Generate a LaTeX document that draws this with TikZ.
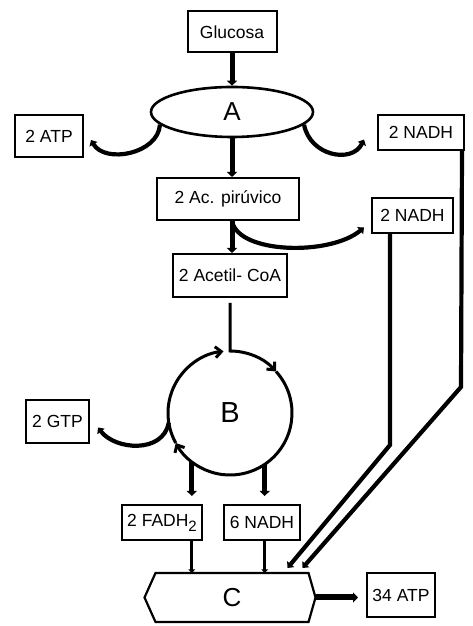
\documentclass[tikz,border=0pt]{standalone}
\usepackage{fontspec}
\setmainfont{Liberation Sans}
\usetikzlibrary{arrows.meta,shapes.geometric}

\begin{document}
\def \ringRadius {62}
\def \labelSize {\fontsize{17.5}{19}\selectfont}

\begin{tikzpicture}[x=1pt,y=1pt,
    box/.style={draw,line width=2pt,inner sep=0pt,font=\labelSize},
    fat/.style={line width=5pt,-{Triangle[length=5pt,width=10pt]}},
    bent/.style={line width=4.2pt,-{Triangle[length=5pt,width=9pt]}},
    ring/.style={line width=3pt,-{Straight Barb[length=6pt,width=11pt]}},
    feed/.style={line width=3pt,-{Triangle[length=3.5pt,width=6.5pt]}}]
         \useasboundingbox (0,0) rectangle (472,626);

         \node[box,minimum width=89pt,minimum height=41pt] (glucosa) at (232,594) {Glucosa};
         \node[ellipse,draw,line width=2.6pt,minimum width=162pt,minimum height=50pt,inner sep=0pt,font=\fontsize{26}{26}\selectfont] (glyc) at (232,514) {A};
         \node[box,minimum width=68pt,minimum height=42pt] (atp) at (49,490) {2 ATP};
         \node[box,minimum width=86pt,minimum height=35pt] (nadhA) at (421,493.5) {2 NADH};
         \node[box,minimum width=142pt,minimum height=42pt] (piruvico) at (228,427) {2 Ac. pirúvico};
         \node[box,minimum width=81pt,minimum height=35pt] (nadhB) at (412.5,410.5) {2 NADH};
         \node[box,minimum width=114pt,minimum height=43pt] (acetil) at (230,350.5) {2 Acetil- CoA};
         \node[circle,minimum size=124pt,inner sep=0pt,outer sep=0pt,font=\fontsize{29}{29}\selectfont] (krebs) at (230,213) {B};
         \node[box,minimum width=63pt,minimum height=43pt] (gtp) at (57.5,204.5) {2 GTP};
         \node[box,minimum width=80pt,minimum height=35pt] (fadh) at (162,103.5) {2 FADH\raisebox{-5pt}{\fontsize{15}{15}\selectfont 2}};
         \node[box,minimum width=76pt,minimum height=35pt] (nadhC) at (262,103.5) {6 NADH};
         \node[minimum width=153pt,minimum height=49pt,inner sep=0pt,outer sep=0pt,font=\fontsize{26}{26}\selectfont] (oxid) at (232,28.5) {C};
         \node[box,minimum width=68pt,minimum height=44pt] (atpC) at (401,31) {34 ATP};

         \coordinate (kneeA) at (461,239);
         \coordinate (kneeB) at (390,181);

         \draw[fat] (glucosa) -- (glyc);
         \draw[fat] (glyc.south) -- (glyc.south |- piruvico.north);
         \draw[fat] (glyc.south |- piruvico.south) -- (glyc.south |- acetil.north);
         \draw[bent] (glyc.190) .. controls (158,472) and (105,462) .. ([xshift=7pt,yshift=-4pt]atp.east);
         \draw[bent] (glyc.-10) .. controls (310,470) and (352,462) .. ([xshift=-13pt,yshift=-7pt]nadhA.west);
         \draw[bent] (glyc.south |- piruvico.south) .. controls (238,372) and (330,370) .. ([xshift=-7pt,yshift=-12pt]nadhB.west);

         \draw[ring] ([yshift=-5pt]acetil.south -| krebs.north) -- (krebs.north) arc[start angle=90,end angle=42,radius=\ringRadius];
         \draw[ring] (krebs.42) arc[start angle=42,end angle=-151,radius=\ringRadius];
         \draw[ring] (krebs.-151) arc[start angle=-151,end angle=-264,radius=\ringRadius];
         \draw[bent] (krebs.189) .. controls (163,172) and (115,176) .. ([xshift=8pt,yshift=-6pt]gtp.east);

         \draw[fat,shorten >=8pt] (krebs.-128) -- (krebs.-128 |- fadh.north);
         \draw[fat,shorten >=8pt] (krebs.-56) -- (krebs.-56 |- nadhC.north);
         \draw[feed] (krebs.-128 |- fadh.south) -- (krebs.-128 |- oxid.north);
         \draw[feed] (krebs.-56 |- nadhC.south) -- (krebs.-56 |- oxid.north);

         \draw[bent] ([xshift=-3pt]nadhA.south east) -- (kneeA) -- ([xshift=-6pt,yshift=5pt]oxid.north east);
         \draw[bent] (kneeB |- nadhB.south) -- (kneeB) -- ([xshift=-21pt,yshift=5pt]oxid.north east);

         \draw[line width=2.2pt] (oxid.north west) -- (oxid.north east) -- ([xshift=7pt]oxid.east) -- (oxid.south east)
            -- (oxid.south west) -- ([xshift=-11pt]oxid.west) -- cycle;
         \draw[fat,line width=6pt,shorten >=8pt] ([xshift=7pt]oxid.east) -- (oxid.east -| atpC.west);
      \end{tikzpicture}
\end{document}
